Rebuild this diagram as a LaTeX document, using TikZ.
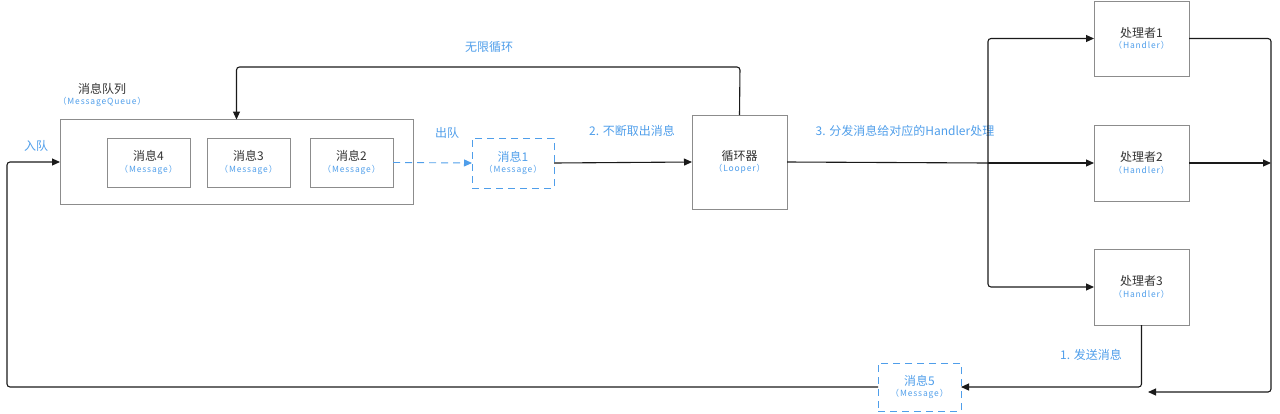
\documentclass[tikz,border=0pt]{standalone}
\usepackage{fontspec}
\setmainfont{Noto Sans CJK SC}
\newfontfamily\subfont[LetterSpace=10]{Noto Sans CJK SC}
\usetikzlibrary{arrows.meta}
\definecolor{bl}{HTML}{4F9EEA}
\definecolor{bd}{HTML}{8C8C8C}
\definecolor{tx}{HTML}{333333}
\definecolor{ln}{HTML}{1A1A1A}
\newcommand\mainfs{\fontsize{12}{14}\selectfont}
\newcommand\subfs{\subfont\fontsize{8.5}{10}\selectfont}
\newcommand\twol[3]{{\mainfs\color{#1}#2}\\[-0.5pt]{\subfs\color{bl}#3}}
\tikzset{
  box/.style={draw=bd, line width=0.8pt, rectangle, outer sep=0pt, inner sep=0pt, align=center},
  dbox/.style={draw=bl, line width=0.9pt, dash pattern=on 7pt off 5pt, rectangle, outer sep=0pt, inner sep=0pt, align=center},
  conn/.style={draw=ln, line width=1.1pt, rounded corners=3pt, -{Triangle[length=8pt,width=7pt]}},
  dconn/.style={draw=bl, line width=0.9pt, dash pattern=on 7pt off 5pt, -{Triangle[length=8pt,width=7pt]}},
  plain/.style={draw=ln, line width=1.1pt, rounded corners=3pt},
  lbl/.style={text=bl, font=\mainfs, inner sep=0pt}
}
\begin{document}
\begin{tikzpicture}[x=1pt,y=-1pt]
\useasboundingbox (0,0) rectangle (1280,413);
% queue
\node[box, minimum width=353, minimum height=85] (q) at (236.5,162) {};
\node[inner sep=0pt, align=center] (qt) at (102,95) {\twol{tx}{消息队列}{（MessageQueue）}};
\node[box, minimum width=83, minimum height=49] (m4) at (148.5,162.5) {\twol{tx}{消息4}{（Message）}};
\node[box, minimum width=83, minimum height=49] (m3) at (248.5,162.5) {\twol{tx}{消息3}{（Message）}};
\node[box, minimum width=83, minimum height=49] (m2) at (351.5,162.5) {\twol{tx}{消息2}{（Message）}};
\node[dbox, minimum width=82, minimum height=50] (m1) at (513,163) {\twol{bl}{消息1}{（Message）}};
\node[box, minimum width=95, minimum height=94] (lp) at (739.5,162) {\twol{tx}{循环器}{（Looper）}};
\node[box, minimum width=95, minimum height=75] (h1) at (1141.5,38.5) {\twol{tx}{处理者1}{（Handler）}};
\node[box, minimum width=95, minimum height=76] (h2) at (1141.5,163) {\twol{tx}{处理者2}{（Handler）}};
\node[box, minimum width=95, minimum height=76] (h3) at (1141.5,287) {\twol{tx}{处理者3}{（Handler）}};
\node[dbox, minimum width=83, minimum height=48] (m5) at (919.5,387) {\twol{bl}{消息5}{（Message）}};
% labels
\node[lbl] (l1) at (36,146) {入队};
\node[lbl] (l2) at (447,133) {出队};
\node[lbl] (l3) at (632,131) {2. 不断取出消息};
\node[lbl] (l4) at (489,47) {无限循环};
\node[lbl] (l5) at (905,131) {3. 分发消息给对应的Handler处理};
\node[lbl] (l6) at (1091,355) {1. 发送消息};
% coordinates
\coordinate (lft) at (7,387);
\coordinate (top) at (740,67);
\coordinate (br) at (988,163);
\coordinate (rt) at (1271,392);
\coordinate (rend) at (1148,392);
% connectors
\draw[conn] (m5.west) -- (lft) |- (q.west);
\draw[dconn] (m2.east) -- (m1.west);
\draw[conn] (m1.east) -- (lp.west);
\draw[conn] (lp.north) -- (top) -| (q.north);
\draw[plain] (lp.east) -- (br);
\draw[conn] (br) |- (h1.west);
\draw[conn] (br) -- (h2.west);
\draw[conn] (br) |- (h3.west);
\draw[conn] (h1.east) -| (rt) -- (rend);
\draw[conn] (h2.east) -- (h2.east -| rt);
\draw[conn] (h3.south) |- (m5.east);
\end{tikzpicture}
\end{document}
